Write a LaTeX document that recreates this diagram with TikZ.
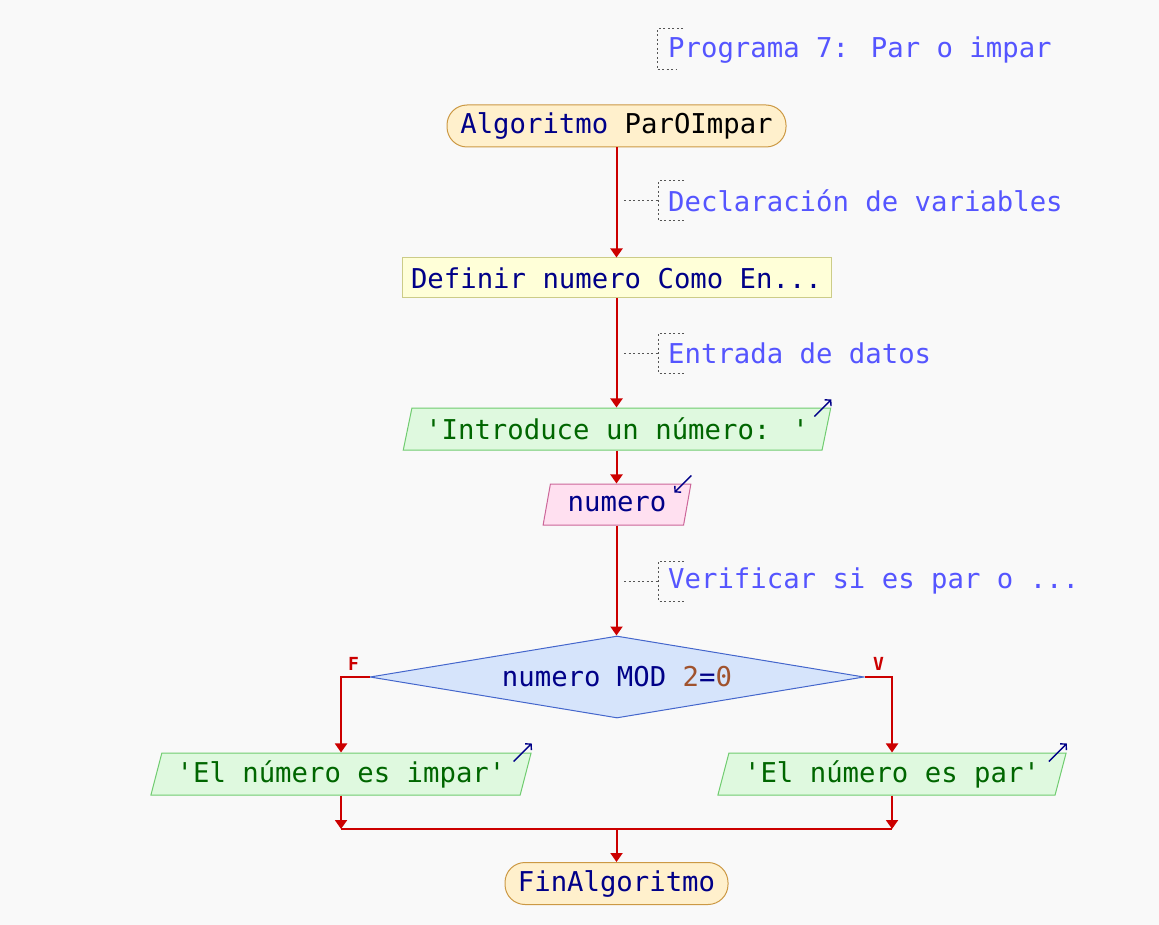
\documentclass[tikz,border=0pt]{standalone}
\usepackage{fontspec}
\setmainfont{DejaVu Sans Mono}
\usetikzlibrary{shapes.geometric,arrows.meta,calc}
\definecolor{bg}{HTML}{F9F9F9}
\definecolor{kw}{HTML}{000088}
\definecolor{cmtc}{HTML}{5555FF}
\definecolor{strg}{HTML}{006600}
\definecolor{num}{HTML}{A0522D}
\definecolor{flow}{HTML}{CC0000}
\definecolor{termfill}{HTML}{FFF0CC}
\definecolor{termdraw}{HTML}{CC9944}
\definecolor{procfill}{HTML}{FFFFD8}
\definecolor{procdraw}{HTML}{CCCC88}
\definecolor{outfill}{HTML}{DFF9DF}
\definecolor{outdraw}{HTML}{70CC70}
\definecolor{infill}{HTML}{FFE0F0}
\definecolor{indraw}{HTML}{CC6699}
\definecolor{diafill}{HTML}{D6E4FB}
\definecolor{diadraw}{HTML}{4466CC}
\definecolor{brkc}{HTML}{555555}
\newcommand{\sq}{\textquotesingle}
\begin{document}
\begin{tikzpicture}[x=1pt,y=-1pt,
  font=\fontsize{27.3}{32}\selectfont,
  term/.style={draw=termdraw, fill=termfill, rounded corners=20pt, minimum height=42pt, inner sep=0pt, line width=1pt, text=kw},
  proc/.style={draw=procdraw, fill=procfill, minimum height=40pt, inner sep=0pt, line width=1pt, text=kw},
  outp/.style={trapezium, trapezium left angle=70, trapezium right angle=110, trapezium stretches=true, draw=outdraw, fill=outfill, minimum height=42pt, inner sep=0pt, line width=1pt, text=strg},
  inp/.style={trapezium, trapezium left angle=71, trapezium right angle=109, trapezium stretches=true, draw=indraw, fill=infill, minimum height=41pt, inner sep=0pt, line width=1pt, text=kw},
  dia/.style={diamond, aspect=6, draw=diadraw, fill=diafill, minimum width=494pt, minimum height=82pt, inner sep=0pt, line width=1pt, text=kw},
  cmt/.style={text=cmtc, inner sep=0pt, anchor=west},
  brk/.style={draw=brkc, line width=1pt, dash pattern=on 2pt off 2.5pt},
  flowline/.style={draw=flow, line width=2pt},
  arr/.style={flowline, -{Triangle[width=12pt,length=9pt]}},
  io/.style={draw=kw, line width=1.4pt, -{Straight Barb[length=4pt,width=9pt]}},
  lbl/.style={text=flow, font=\fontsize{18}{20}\selectfont\bfseries, inner sep=0pt}
]
\useasboundingbox[fill=bg] (0,0) rectangle (1159,925);

% comments
\node[cmt] (c0) at (668,50) {Programa 7: Par o impar};
\node[cmt] (c1) at (668,201) {Declaración de variables};
\node[cmt] (c2) at (668,353) {Entrada de datos};
\node[cmt] (c3) at (668,581) {Verificar si es par o ...};

% nodes
\node[term, minimum width=339pt] (start) at (616.5,126) {Algoritmo \textcolor{black}{ParOImpar}};
\node[proc, minimum width=429pt] (def) at (616.5,278) {Definir numero Como En...};
\node[outp, minimum width=430pt] (o1) at (617,429) {\sq Introduce un número: \sq};
\node[inp, minimum width=148pt] (in1) at (617,504.5) {numero};
\node[dia] (d) at (617,677) {numero MOD \textcolor{num}{2}=\textcolor{num}{0}};
\node[outp, minimum width=382pt] (pl) at (341,774) {\sq El número es impar\sq};
\node[outp, minimum width=349pt] (pr) at (892,774) {\sq El número es par\sq};
\node[term, minimum width=223pt] (fin) at (616.5,883.5) {FinAlgoritmo};
\coordinate (j) at (616.5,829);

% flow
\draw[arr] (start.south) -- (start.south |- def.north);
\draw[arr] (def.south) -- (def.south |- o1.north);
\draw[arr] (o1.south -| def.south) -- (def.south |- in1.north);
\draw[arr] (in1.south -| def.south) -- (def.south |- d.north);
\draw[arr] (d.west) -| (pl.north);
\draw[arr] (d.east) -| (pr.north);
\draw[arr] (pl.south) -- (pl.south |- j);
\draw[arr] (pr.south) -- (pr.south |- j);
\draw[flowline] (pl.south |- j) -- (pr.south |- j);
\draw[arr] (j) -- (fin.north);

\node[lbl] (lf) at ($(d.west)+(-16,-13)$) {F};
\node[lbl] (lv) at ($(d.east)+(14,-13)$) {V};

% io markers
\draw[io] ($(o1.top right corner)+(-17,9)$) -- ($(o1.top right corner)+(0,-8)$);
\draw[io] ($(pl.top right corner)+(-18,9)$) -- ($(pl.top right corner)+(0,-9)$);
\draw[io] ($(pr.top right corner)+(-18,9)$) -- ($(pr.top right corner)+(0,-9)$);
\draw[io] ($(in1.top right corner)+(0,-8)$) -- ($(in1.top right corner)+(-17,9)$);

% comment brackets
\draw[brk] ($(c0.west)+(15,-21)$) -- ++(-26,0) -- ++(0,41) -- ++(20,0);
\foreach \c in {c1,c2,c3}{
  \draw[brk] ($(\c.west)+(16,-20)$) -- ++(-26,0) -- ++(0,40) -- ++(26,0);
  \draw[brk] ($(\c.west)+(-44,0)$) -- ($(\c.west)+(-10,0)$);
}
\end{tikzpicture}
\end{document}
